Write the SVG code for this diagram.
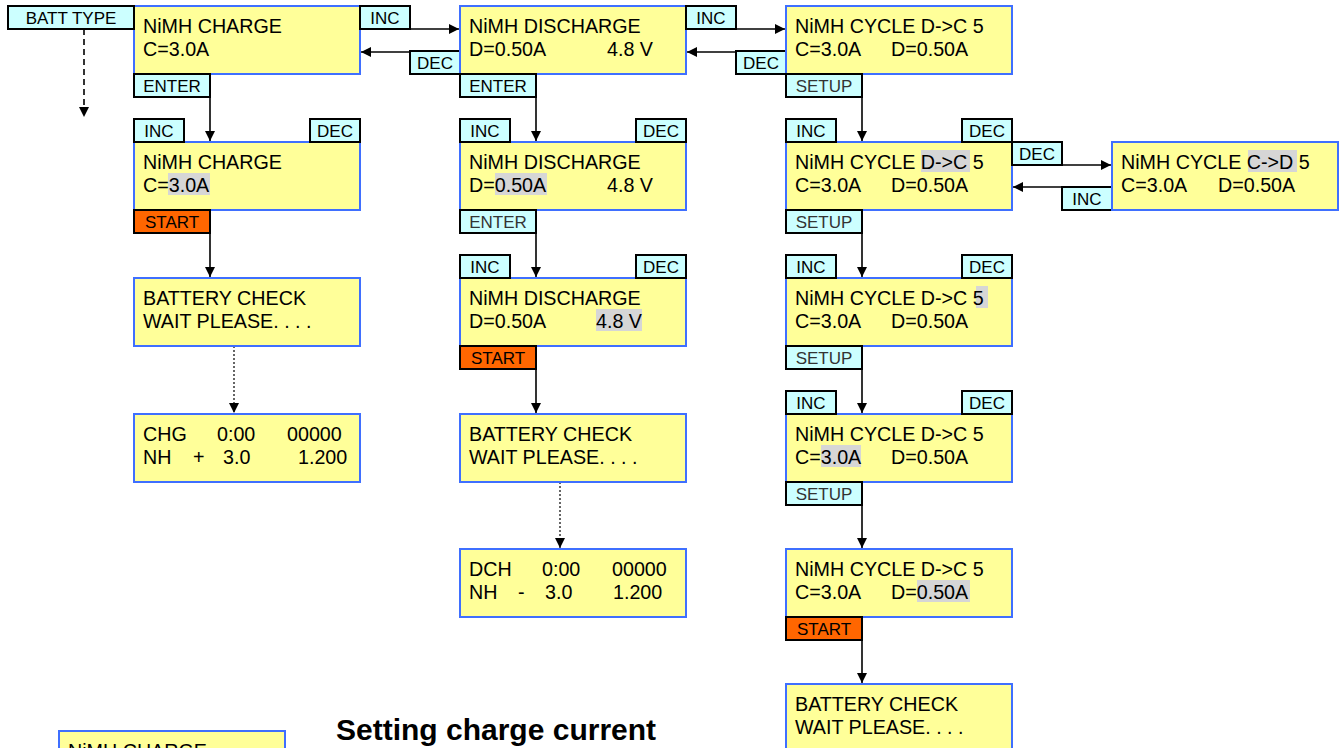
<svg xmlns="http://www.w3.org/2000/svg" width="1340" height="748" viewBox="0 0 1340 748">
<defs>
<style>
.box{fill:#ffff99;stroke:#3f6fff;stroke-width:2}
.lb{fill:#ccffff;stroke:#000;stroke-width:2}
.st{fill:#ff6600;stroke:#000;stroke-width:2}
.t{font-family:"Liberation Sans",Arial,sans-serif;font-size:19.7px;fill:#000}
.l{font-family:"Liberation Sans",Arial,sans-serif;font-size:17px;fill:#000;text-anchor:middle}
.lg{fill:#333}
.hl{fill:#d6d6d6}
.ar{stroke:#000;stroke-width:1.6;fill:none}
.dash{stroke:#000;stroke-width:1.6;fill:none;stroke-dasharray:6,4}
.dot{stroke:#000;stroke-width:1.2;fill:none;stroke-dasharray:2,2}
.title{font-family:"Liberation Sans",Arial,sans-serif;font-size:30px;font-weight:bold;fill:#000}
</style>
<marker id="ah" markerUnits="userSpaceOnUse" markerWidth="10" markerHeight="10" refX="10" refY="5" orient="auto"><path d="M0,0 L10,5 L0,10 z" fill="#000"/></marker>
</defs>

<g id="connectors">
<line class="dash" x1="84" y1="29" x2="84" y2="117" marker-end="url(#ah)"/>
<line class="ar" x1="410" y1="29" x2="459" y2="29" marker-end="url(#ah)"/>
<line class="ar" x1="410" y1="52" x2="361" y2="52" marker-end="url(#ah)"/>
<line class="ar" x1="736" y1="29" x2="785" y2="29" marker-end="url(#ah)"/>
<line class="ar" x1="736" y1="52" x2="687" y2="52" marker-end="url(#ah)"/>
<line class="ar" x1="210" y1="97" x2="210" y2="141" marker-end="url(#ah)"/>
<line class="ar" x1="210" y1="233" x2="210" y2="277" marker-end="url(#ah)"/>
<line class="dot" x1="234" y1="346" x2="234" y2="413" marker-end="url(#ah)"/>
<line class="ar" x1="536" y1="97" x2="536" y2="141" marker-end="url(#ah)"/>
<line class="ar" x1="536" y1="233" x2="536" y2="277" marker-end="url(#ah)"/>
<line class="ar" x1="536" y1="369" x2="536" y2="413" marker-end="url(#ah)"/>
<line class="dot" x1="560" y1="482" x2="560" y2="548" marker-end="url(#ah)"/>
<line class="ar" x1="862" y1="97" x2="862" y2="141" marker-end="url(#ah)"/>
<line class="ar" x1="862" y1="233" x2="862" y2="277" marker-end="url(#ah)"/>
<line class="ar" x1="862" y1="369" x2="862" y2="413" marker-end="url(#ah)"/>
<line class="ar" x1="862" y1="505" x2="862" y2="548" marker-end="url(#ah)"/>
<line class="ar" x1="862" y1="640" x2="862" y2="683" marker-end="url(#ah)"/>
<line class="ar" x1="1062" y1="165" x2="1111" y2="165" marker-end="url(#ah)"/>
<line class="ar" x1="1062" y1="187" x2="1013" y2="187" marker-end="url(#ah)"/>
</g>

<g id="n1">
<rect class="box" x="134" y="6" width="226" height="68"/>
<text class="t" x="143" y="33">NiMH CHARGE</text>
<text class="t" x="143" y="56">C=3.0A</text>
<rect class="lb" x="8" y="6" width="126" height="23"/><text class="l" x="71" y="24">BATT TYPE</text>
<rect class="lb" x="360" y="6" width="50" height="23"/><text class="l" x="385" y="24">INC</text>
<rect class="lb" x="410" y="51" width="50" height="23"/><text class="l" x="435" y="69">DEC</text>
<rect class="lb" x="134" y="74" width="76" height="23"/><text class="l" x="172" y="92">ENTER</text>
</g>

<g id="n2">
<rect class="box" x="134" y="142" width="226" height="68"/>
<rect class="hl" x="168" y="173" width="42" height="22"/>
<text class="t" x="143" y="169">NiMH CHARGE</text>
<text class="t" x="143" y="192">C=3.0A</text>
<rect class="lb" x="134" y="119" width="50" height="23"/><text class="l" x="159" y="137">INC</text>
<rect class="lb" x="310" y="119" width="50" height="23"/><text class="l" x="335" y="137">DEC</text>
<rect class="st" x="134" y="210" width="76" height="23"/><text class="l" x="172" y="228">START</text>
</g>

<g id="n3">
<rect class="box" x="134" y="278" width="226" height="68"/>
<text class="t" x="143" y="305">BATTERY CHECK</text>
<text class="t" x="143" y="328">WAIT PLEASE. . . .</text>
</g>

<g id="n4">
<rect class="box" x="134" y="414" width="226" height="68"/>
<text class="t" x="143" y="441">CHG</text><text class="t" x="217" y="441">0:00</text><text class="t" x="287" y="441">00000</text>
<text class="t" x="143" y="464">NH</text><text class="t" x="193" y="464">+</text><text class="t" x="223" y="464">3.0</text><text class="t" x="298" y="464">1.200</text>
</g>

<g id="n5">
<rect class="box" x="460" y="6" width="226" height="68"/>
<text class="t" x="469" y="33">NiMH DISCHARGE</text>
<text class="t" x="469" y="56">D=0.50A</text><text class="t" x="607" y="56">4.8 V</text>
<rect class="lb" x="686" y="6" width="50" height="23"/><text class="l" x="711" y="24">INC</text>
<rect class="lb" x="736" y="51" width="50" height="23"/><text class="l" x="761" y="69">DEC</text>
<rect class="lb" x="460" y="74" width="76" height="23"/><text class="l" x="498" y="92">ENTER</text>
</g>

<g id="n6">
<rect class="box" x="460" y="142" width="226" height="68"/>
<rect class="hl" x="495" y="173" width="52" height="22"/>
<text class="t" x="469" y="169">NiMH DISCHARGE</text>
<text class="t" x="469" y="192">D=0.50A</text><text class="t" x="607" y="192">4.8 V</text>
<rect class="lb" x="460" y="119" width="50" height="23"/><text class="l" x="485" y="137">INC</text>
<rect class="lb" x="636" y="119" width="50" height="23"/><text class="l" x="661" y="137">DEC</text>
<rect class="lb" x="460" y="210" width="76" height="23"/><text class="l lg" x="498" y="228">ENTER</text>
</g>

<g id="n7">
<rect class="box" x="460" y="278" width="226" height="68"/>
<rect class="hl" x="596" y="309" width="46" height="22"/>
<text class="t" x="469" y="305">NiMH DISCHARGE</text>
<text class="t" x="469" y="328">D=0.50A</text><text class="t" x="596" y="328">4.8 V</text>
<rect class="lb" x="460" y="255" width="50" height="23"/><text class="l" x="485" y="273">INC</text>
<rect class="lb" x="636" y="255" width="50" height="23"/><text class="l" x="661" y="273">DEC</text>
<rect class="st" x="460" y="346" width="76" height="23"/><text class="l" x="498" y="364">START</text>
</g>

<g id="n8">
<rect class="box" x="460" y="414" width="226" height="68"/>
<text class="t" x="469" y="441">BATTERY CHECK</text>
<text class="t" x="469" y="464">WAIT PLEASE. . . .</text>
</g>

<g id="n9">
<rect class="box" x="460" y="549" width="226" height="68"/>
<text class="t" x="469" y="576">DCH</text><text class="t" x="542" y="576">0:00</text><text class="t" x="612" y="576">00000</text>
<text class="t" x="469" y="599">NH</text><text class="t" x="518" y="599">-</text><text class="t" x="545" y="599">3.0</text><text class="t" x="613" y="599">1.200</text>
</g>

<g id="n10">
<rect class="box" x="786" y="6" width="226" height="68"/>
<text class="t" x="795" y="33">NiMH CYCLE D-&gt;C 5</text>
<text class="t" x="795" y="56">C=3.0A</text><text class="t" x="891" y="56">D=0.50A</text>
<rect class="lb" x="786" y="74" width="76" height="23"/><text class="l lg" x="824" y="92">SETUP</text>
</g>

<g id="n11">
<rect class="box" x="786" y="142" width="226" height="68"/>
<rect class="hl" x="921" y="150" width="49" height="22"/>
<text class="t" x="795" y="169">NiMH CYCLE D-&gt;C 5</text>
<text class="t" x="795" y="192">C=3.0A</text><text class="t" x="891" y="192">D=0.50A</text>
<rect class="lb" x="786" y="119" width="50" height="23"/><text class="l" x="811" y="137">INC</text>
<rect class="lb" x="962" y="119" width="50" height="23"/><text class="l" x="987" y="137">DEC</text>
<rect class="lb" x="1012" y="142" width="50" height="23"/><text class="l" x="1037" y="160">DEC</text>
<rect class="lb" x="1062" y="187" width="50" height="23"/><text class="l" x="1087" y="205">INC</text>
<rect class="lb" x="786" y="210" width="76" height="23"/><text class="l lg" x="824" y="228">SETUP</text>
</g>

<g id="n12">
<rect class="box" x="1112" y="142" width="226" height="68"/>
<rect class="hl" x="1248" y="150" width="49" height="22"/>
<text class="t" x="1121" y="169">NiMH CYCLE C-&gt;D 5</text>
<text class="t" x="1121" y="192">C=3.0A</text><text class="t" x="1218" y="192">D=0.50A</text>
</g>

<g id="n13">
<rect class="box" x="786" y="278" width="226" height="68"/>
<rect class="hl" x="976" y="286" width="12" height="22"/>
<text class="t" x="795" y="305">NiMH CYCLE D-&gt;C 5</text>
<text class="t" x="795" y="328">C=3.0A</text><text class="t" x="891" y="328">D=0.50A</text>
<rect class="lb" x="786" y="255" width="50" height="23"/><text class="l" x="811" y="273">INC</text>
<rect class="lb" x="962" y="255" width="50" height="23"/><text class="l" x="987" y="273">DEC</text>
<rect class="lb" x="786" y="346" width="76" height="23"/><text class="l lg" x="824" y="364">SETUP</text>
</g>

<g id="n14">
<rect class="box" x="786" y="414" width="226" height="68"/>
<rect class="hl" x="821" y="445" width="40" height="22"/>
<text class="t" x="795" y="441">NiMH CYCLE D-&gt;C 5</text>
<text class="t" x="795" y="464">C=3.0A</text><text class="t" x="891" y="464">D=0.50A</text>
<rect class="lb" x="786" y="391" width="50" height="23"/><text class="l" x="811" y="409">INC</text>
<rect class="lb" x="962" y="391" width="50" height="23"/><text class="l" x="987" y="409">DEC</text>
<rect class="lb" x="786" y="482" width="76" height="23"/><text class="l lg" x="824" y="500">SETUP</text>
</g>

<g id="n15">
<rect class="box" x="786" y="549" width="226" height="68"/>
<rect class="hl" x="917" y="580" width="53" height="22"/>
<text class="t" x="795" y="576">NiMH CYCLE D-&gt;C 5</text>
<text class="t" x="795" y="599">C=3.0A</text><text class="t" x="891" y="599">D=0.50A</text>
<rect class="st" x="786" y="617" width="76" height="23"/><text class="l" x="824" y="635">START</text>
</g>

<g id="n16">
<rect class="box" x="786" y="684" width="226" height="68"/>
<text class="t" x="795" y="711">BATTERY CHECK</text>
<text class="t" x="795" y="734">WAIT PLEASE. . . .</text>
</g>

<g id="n17">
<rect class="box" x="59" y="731" width="226" height="68"/>
<text class="t" x="68" y="758">NiMH CHARGE</text>
</g>

<text class="title" x="336" y="740">Setting charge current</text>
</svg>
